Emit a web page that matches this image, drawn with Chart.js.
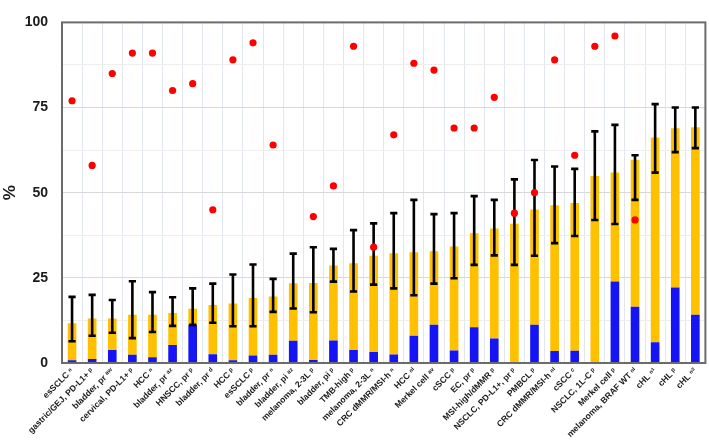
<!DOCTYPE html>
<html>
<head>
<meta charset="utf-8">
<script src="https://cdn.jsdelivr.net/npm/chart.js@4.4.1/dist/chart.umd.min.js"></script>
<style>
  html, body { margin: 0; padding: 0; background: #ffffff; }
  #wrap { width: 709px; height: 443px; position: relative; }
</style>
</head>
<body>
<div id="wrap"><canvas id="c" width="709" height="443"></canvas></div>
<script>
const categories = [
  "esSCLC ⁿ", "gastric/GEJ, PD-L1+ ᵖ", "bladder, pr ᵃʷ", "cervical, PD-L1+ ᵖ", "HCC ⁿ",
  "bladder, pr ᵃᶻ", "HNSCC, pr ᵖ", "bladder, pr ᵈ", "HCC ᵖ", "esSCLC ᵖ",
  "bladder, pr ⁿ", "bladder, pi ᵃᶻ", "melanoma, 2-3L ᵖ", "bladder, pi ᵖ", "TMB-high ᵖ",
  "melanoma, 2-3L ⁿ", "CRC dMMR/MSI-h ⁿ", "HCC ⁿⁱ", "Merkel cell ᵃᵛ", "cSCC ᵖ",
  "EC, pr ᵖ", "MSI-high/dMMR ᵖ", "NSCLC, PD-L1+, pr ᵖ", "PMBCL ᵖ", "CRC dMMR/MSI-h ⁿⁱ",
  "cSCC ᶜ", "NSCLC, 1L-C ᵖ", "Merkel cell ᵖ", "melanoma, BRAF WT ⁿⁱ", "cHL ⁿ¹",
  "cHL ᵖ", "cHL ⁿ²"
];
const completeResponse = [0.8,1.2,3.8,2.4,1.7,5.3,11.2,2.6,0.8,2.2,2.4,6.5,0.9,6.6,3.8,3.2,2.5,8.0,11.2,3.7,10.5,7.2,0,11.2,3.5,3.6,0,23.9,16.5,6.1,22.2,14.2];
const overallResponse = [11.7,13.1,13.1,14.2,14.2,14.7,15.9,17.0,17.5,19.1,19.5,23.4,23.5,28.6,29.3,31.5,32.2,32.5,32.8,34.2,38.1,39.5,40.9,45.1,46.3,47.0,54.9,55.9,59.7,66.2,68.9,69.2];
const ciLower = [6.4,8.0,8.9,7.3,9.1,10.9,11.2,11.8,10.8,10.8,15.0,16.0,14.9,23.9,21.0,23.0,21.9,19.9,23.3,24.9,28.8,31.6,28.8,31.5,35.2,37.3,42.0,40.8,47.9,55.9,61.9,63.1];
const ciUpper = [19.4,20.0,18.5,24.0,20.8,19.3,21.9,23.3,26.0,28.9,24.7,32.1,34.0,33.5,39.0,41.0,44.0,47.9,43.7,44.0,49.0,47.9,53.9,59.6,57.7,57.0,68.0,69.9,61.0,76.0,75.0,75.0];
const redDots = [77,58,85,91,91,80,82,45,89,94,64,null,43,52,93,34,67,88,86,69,69,78,44,50,89,61,93,96,42,null,null,null];
const yTicks = [0, 25, 50, 75, 100];

const partialResponse = overallResponse.map((v, i) => v - completeResponse[i]);

const errorBarPlugin = {
  id: 'errorBars',
  afterDatasetDraw(chart, args) {
    if (args.index !== 1) return;
    const ctx = chart.ctx;
    const xs = chart.scales.x, ys = chart.scales.y;
    ctx.save();
    ctx.strokeStyle = '#000000';
    ctx.lineWidth = 2.6;
    ctx.lineCap = 'butt';
    for (let i = 0; i < categories.length; i++) {
      const x = xs.getPixelForValue(i);
      const y1 = ys.getPixelForValue(ciLower[i]);
      const y2 = ys.getPixelForValue(ciUpper[i]);
      const cw = 3.6;
      ctx.beginPath();
      ctx.moveTo(x, y1); ctx.lineTo(x, y2);
      ctx.moveTo(x - cw, y1); ctx.lineTo(x + cw, y1);
      ctx.moveTo(x - cw, y2); ctx.lineTo(x + cw, y2);
      ctx.stroke();
    }
    ctx.restore();
  },
  afterDraw(chart) {
    const a = chart.chartArea;
    const ctx = chart.ctx;
    ctx.save();
    ctx.strokeStyle = '#6b6b6b';
    ctx.lineWidth = 2;
    ctx.strokeRect(a.left, a.top, a.right - a.left, a.bottom - a.top);
    ctx.restore();
  }
};

new Chart(document.getElementById('c'), {
  data: {
    labels: categories,
    datasets: [
      {
        type: 'line',
        label: 'dots',
        data: redDots,
        stack: 'dots',
        showLine: false,
        pointRadius: 3.6,
        pointHoverRadius: 3.6,
        pointBackgroundColor: '#ff0000',
        pointBorderColor: '#ff0000',
        pointBorderWidth: 0,
        spanGaps: false
      },
      {
        type: 'bar',
        label: 'CR',
        data: completeResponse,
        stack: 'bars',
        backgroundColor: '#1414f5',
        borderWidth: 0,
        barPercentage: 0.43,
        categoryPercentage: 1.0
      },
      {
        type: 'bar',
        label: 'PR',
        data: partialResponse,
        stack: 'bars',
        backgroundColor: '#ffc000',
        borderWidth: 0,
        barPercentage: 0.43,
        categoryPercentage: 1.0
      }
    ]
  },
  options: {
    responsive: false,
    animation: false,
    devicePixelRatio: 1,
    layout: { padding: { top: 7, right: 2, left: 0, bottom: 0 } },
    plugins: { legend: { display: false }, tooltip: { enabled: false } },
    scales: {
      x: {
        stacked: true,
        offset: true,
        grid: { offset: true, color: '#e2e7ef', lineWidth: 1, drawTicks: false },
        border: { display: false },
        ticks: {
          autoSkip: false,
          minRotation: 45,
          maxRotation: 45,
          padding: 3,
          color: '#1a1a1a',
          font: { family: '"Liberation Sans", Arial, sans-serif', size: 8.6, weight: 'bold' }
        },
        afterFit(scale) { scale.height = 80; }
      },
      y: {
        stacked: true,
        min: 0,
        max: 100,
        grid: {
          drawTicks: false,
          color: (c) => (c.tick && c.tick.value % 25 === 0) ? '#d9d9d9' : '#eeeeee',
          lineWidth: 1
        },
        border: { display: false },
        ticks: {
          stepSize: 12.5,
          padding: 14,
          color: '#1a1a1a',
          font: { family: '"Liberation Sans", Arial, sans-serif', size: 14, weight: 'bold' },
          callback: (v) => yTicks.includes(v) ? String(v) : ''
        },
        title: {
          display: true,
          text: '%',
          color: '#1a1a1a',
          padding: { top: 0, bottom: 2 },
          font: { family: '"Liberation Sans", Arial, sans-serif', size: 17, weight: 'bold' }
        },
        afterFit(scale) { scale.width = 62; }
      }
    }
  },
  plugins: [errorBarPlugin]
});
</script>
</body>
</html>
